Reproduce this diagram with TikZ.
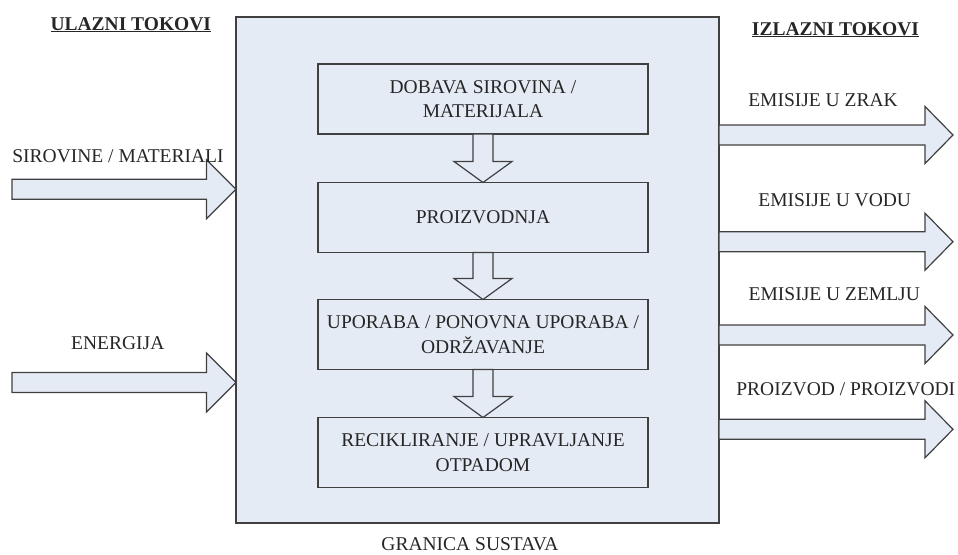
\documentclass[tikz,border=0pt]{standalone}
\usepackage{fontspec}
\setmainfont{Liberation Serif}
\usetikzlibrary{calc}
\definecolor{boxfill}{HTML}{E5EBF5}
\definecolor{edge}{HTML}{404040}
\definecolor{ink}{HTML}{262626}
\newcommand{\stagearrow}[2]{%
  \draw[blockarrow] ($(#1.south)+(-10,0)$) -- ($(#2.north)+(-10,-21)$) -- ($(#2.north)+(-29,-21)$) -- (#2.north)
    -- ($(#2.north)+(29,-21)$) -- ($(#2.north)+(10,-21)$) -- ($(#1.south)+(10,0)$) -- cycle;}
\newcommand{\flowarrow}[4]{% #1 start, #2 tip, #3 head length, #4 head half width
  \draw[blockarrow] ($(#1)+(0,-10)$) -- ($(#2)+(-#3,-10)$) -- ($(#2)+(-#3,-#4)$) -- (#2)
    -- ($(#2)+(-#3,#4)$) -- ($(#2)+(-#3,10)$) -- ($(#1)+(0,10)$) -- cycle;}
\begin{document}
\begin{tikzpicture}[x=1pt,y=-1pt,
  every node/.style={font=\fontsize{19.5}{24.5}\selectfont, text=ink},
  frame/.style={draw=edge, fill=boxfill, line width=1.2pt, inner sep=0pt, outer sep=0pt},
  stage/.style={frame, minimum width=330pt, minimum height=70pt, align=center},
  blockarrow/.style={draw=edge, fill=boxfill, line width=1.2pt, line join=miter},
  lbl/.style={anchor=base, inner sep=0pt}
]
\useasboundingbox (0,0) rectangle (958,554);

% system boundary
\node[frame, minimum width=483pt, minimum height=506pt] (sys) at (477.5,270) {};

% input flows
\coordinate (s1) at (12,189.3);
\coordinate (s1t) at (sys.west |- s1);
\coordinate (s2) at (12,382.5);
\coordinate (s2t) at (sys.west |- s2);
\flowarrow{s1}{s1t}{29.5}{29.5}
\flowarrow{s2}{s2t}{29.5}{29.5}

% output flows
\coordinate (z1) at (953,135);
\coordinate (z1s) at (sys.east |- z1);
\coordinate (z2) at (953,241.7);
\coordinate (z2s) at (sys.east |- z2);
\coordinate (z3) at (953,335);
\coordinate (z3s) at (sys.east |- z3);
\coordinate (z4) at (953,429.3);
\coordinate (z4s) at (sys.east |- z4);
\flowarrow{z1s}{z1}{28}{28.5}
\flowarrow{z2s}{z2}{28}{28.5}
\flowarrow{z3s}{z3}{28}{28.5}
\flowarrow{z4s}{z4}{28}{28.5}

% stages
\node[stage] (b1) at (483,99) {DOBAVA SIROVINA /\\MATERIJALA};
\node[stage] (b2) at (483,217.5) {PROIZVODNJA};
\node[stage] (b3) at (483,334.5) {UPORABA / PONOVNA UPORABA /\\ODRŽAVANJE};
\node[stage] (b4) at (483,452.5) {RECIKLIRANJE / UPRAVLJANJE\\OTPADOM};
\stagearrow{b1}{b2}
\stagearrow{b2}{b3}
\stagearrow{b3}{b4}

% labels
\node[lbl] (hin) at (130.8,30) {\underline{\textbf{ULAZNI TOKOVI}}};
\node[lbl] (hout) at (835.5,35) {\underline{\textbf{IZLAZNI TOKOVI}}};
\node[lbl] (lsir) at (118,162.7) {SIROVINE / MATERIALI};
\node[lbl] (lene) at (117.8,349) {ENERGIJA};
\node[lbl] (lzr) at (823,106.5) {EMISIJE U ZRAK};
\node[lbl] (lvo) at (834.7,206.5) {EMISIJE U VODU};
\node[lbl] (lze) at (834.3,300.5) {EMISIJE U ZEMLJU};
\node[lbl] (lpr) at (845.8,395) {PROIZVOD / PROIZVODI};
\node[lbl] (lgr) at (470,550.5) {GRANICA SUSTAVA};
\end{tikzpicture}
\end{document}
